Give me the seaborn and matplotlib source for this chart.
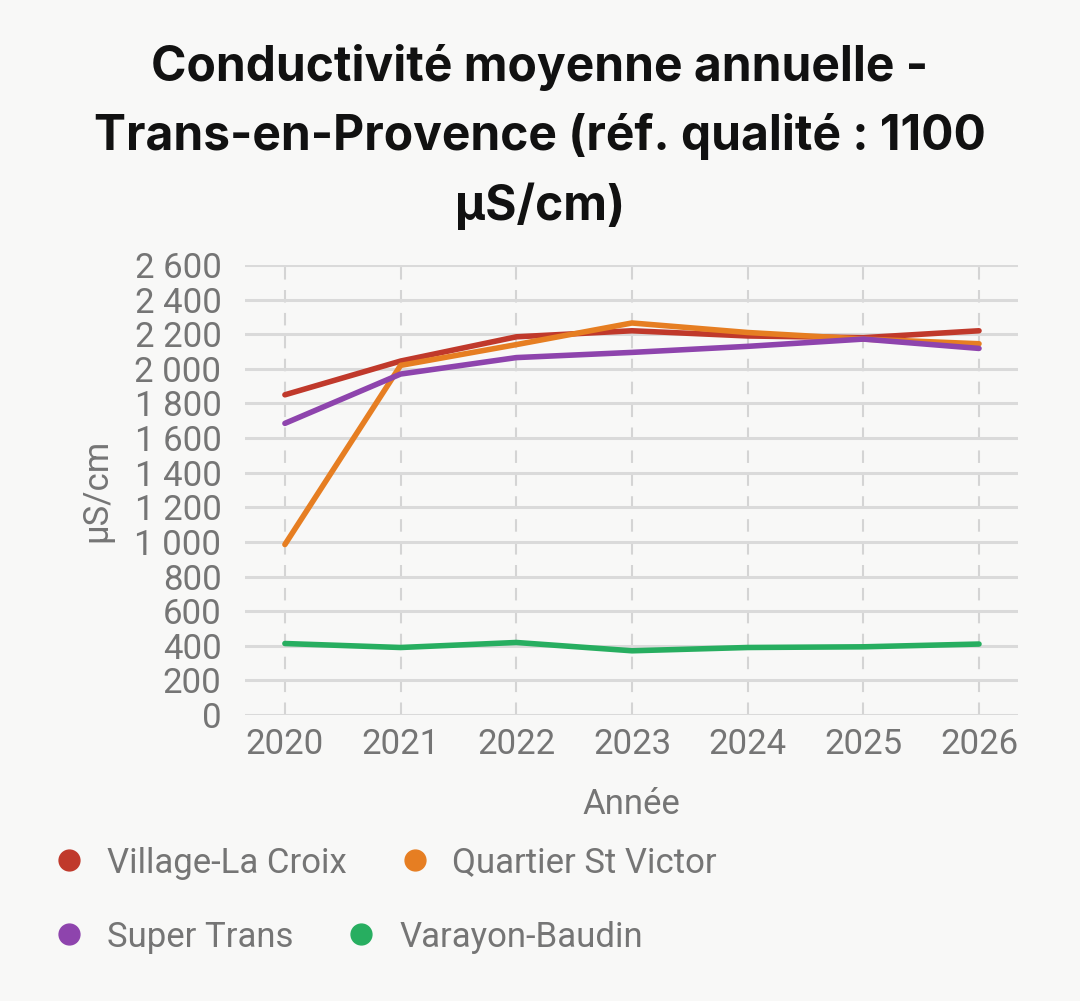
import matplotlib
matplotlib.use("Agg")
import matplotlib.pyplot as plt
import seaborn as sns
import pandas as pd
from matplotlib.lines import Line2D

years = [2020, 2021, 2022, 2023, 2024, 2025, 2026]
village_la_croix = [1850, 2045, 2185, 2220, 2190, 2180, 2220]
quartier_st_victor = [985, 2020, 2140, 2265, 2210, 2172, 2145]
super_trans = [1685, 1970, 2065, 2095, 2130, 2172, 2118]
varayon_baudin = [413, 390, 419, 371, 390, 394, 410]

series_names = ["Village-La Croix", "Quartier St Victor", "Super Trans", "Varayon-Baudin"]
series_values = [village_la_croix, quartier_st_victor, super_trans, varayon_baudin]
colors = ["#c0392b", "#e67e22", "#8e44ad", "#27ae60"]
y_ticks = list(range(0, 2601, 200))
y_tick_labels = ["0", "200", "400", "600", "800", "1 000", "1 200", "1 400", "1 600",
                 "1 800", "2 000", "2 200", "2 400", "2 600"]

rows = []
for name, vals in zip(series_names, series_values):
    for y, v in zip(years, vals):
        rows.append({"Année": y, "Valeur": v, "Site": name})
df = pd.DataFrame(rows)

sns.set_theme(style="white")
plt.rcParams['font.family'] = ['Roboto', 'DejaVu Sans']
bg = "#f8f8f7"
fig = plt.figure(figsize=(10.8, 10.01), dpi=100, facecolor=bg)
ax = fig.add_axes([245/1080, 1 - 715/1001, (1018-245)/1080, (715-265)/1001])
ax.set_facecolor(bg)

sns.lineplot(data=df, x="Année", y="Valeur", hue="Site", hue_order=series_names,
             palette=colors, linewidth=4.0, ax=ax, legend=False)

ax.set_xlim(2019.655, 2026.337)
ax.set_ylim(0, 2600)
ax.set_yticks(y_ticks)
ax.set_yticklabels(y_tick_labels)
ax.set_xticks(years)
ax.set_xticklabels([str(y) for y in years])
grey = "#757575"
fs = 25
ax.tick_params(axis="both", labelsize=fs, colors=grey, length=0)
ax.tick_params(axis="y", pad=17)
ax.tick_params(axis="x", pad=9)
for s in ax.spines.values():
    s.set_visible(False)
ax.grid(axis="y", color="#dadada", linewidth=2.2, linestyle="-")
ax.grid(axis="x", color="#d4d4d4", linewidth=1.5, linestyle=(0, (6, 5)))
ax.set_axisbelow(True)
ax.set_xlabel("Année", fontsize=fs, color=grey, labelpad=20)
ax.set_ylabel("µS/cm", fontsize=fs, color=grey, labelpad=15)

fig.suptitle("Conductivité moyenne annuelle -\nTrans-en-Provence (réf. qualité : 1100\nµS/cm)",
             x=0.5, y=0.956, fontsize=34.5, fontweight="bold", color="#111111",
             family=['Inter', 'DejaVu Sans'], linespacing=1.6, va="top")

def handles(idx):
    return [Line2D([0], [0], marker="o", color="none", markerfacecolor=colors[i],
                   markeredgecolor=colors[i], markersize=15, label=series_names[i]) for i in idx]

common = dict(loc="center left", ncol=2, frameon=False, fontsize=fs, handletextpad=0.59,
              columnspacing=1.45, labelcolor=grey, handlelength=1.0, borderaxespad=0)
fig.legend(handles=handles([0, 1]), bbox_to_anchor=(38/1080, 1 - 863/1001), **common)
fig.legend(handles=handles([2, 3]), bbox_to_anchor=(38/1080, 1 - 937/1001), **common)

fig.savefig("out.png", dpi=100, facecolor=bg)
